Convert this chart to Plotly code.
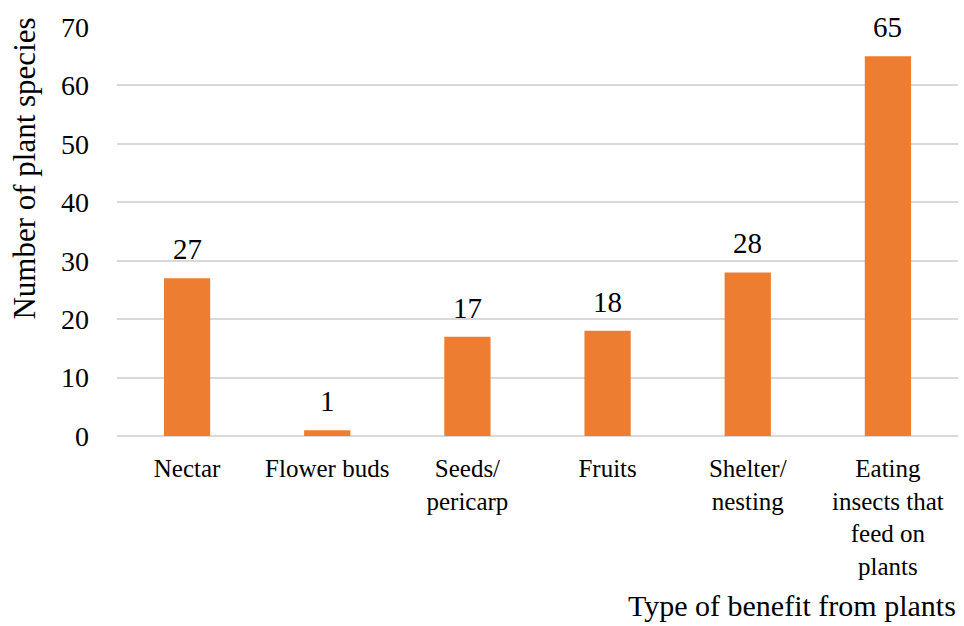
import plotly.graph_objects as go

categories = ["Nectar", "Flower buds", "Seeds/<br>pericarp", "Fruits", "Shelter/<br>nesting",
              "Eating<br>insects that<br>feed on<br>plants"]
values = [27, 1, 17, 18, 28, 65]
y_ticks = [0, 10, 20, 30, 40, 50, 60, 70]

FONT = "Liberation Serif"

fig = go.Figure()
fig.add_trace(go.Bar(x=categories, y=values, marker=dict(color="#ED7D31", line=dict(width=0)),
                     hoverinfo="skip"))

for c, v in zip(categories, values):
    fig.add_annotation(x=c, y=v, text=str(v), showarrow=False, yanchor="bottom",
                       yshift=11, font=dict(family=FONT, size=29, color="#000"))

fig.add_annotation(text="Number of plant species", xref="paper", yref="paper",
                   x=-0.11, xanchor="center", y=0.655, yanchor="middle", textangle=-90,
                   showarrow=False, font=dict(family=FONT, size=31, color="#000"))
fig.add_annotation(text="Type of benefit from plants", xref="paper", yref="paper",
                   x=1.0, xanchor="right", y=-0.415, yanchor="middle",
                   showarrow=False, font=dict(family=FONT, size=30, color="#000"))

fig.update_layout(
    width=964, height=626,
    margin=dict(l=117, r=6, t=27, b=190),
    paper_bgcolor="white", plot_bgcolor="white",
    bargap=0.67, showlegend=False,
    font=dict(family=FONT, color="#000"),
    xaxis=dict(showgrid=False, showline=False, ticks="",
               tickfont=dict(family=FONT, size=25, color="#000"),
               ticklabelstandoff=15),
    yaxis=dict(range=[0, 70], tickvals=y_ticks, showgrid=True, gridcolor="#d9d9d9",
               gridwidth=1.5, zeroline=True, zerolinecolor="#d9d9d9", zerolinewidth=1.5,
               showline=False, ticks="", tickfont=dict(family=FONT, size=28, color="#000"),
               ticklabelstandoff=27),
)

fig.write_html("out.html", config={"displayModeBar": False},
               post_script="document.body.style.margin='0';")
